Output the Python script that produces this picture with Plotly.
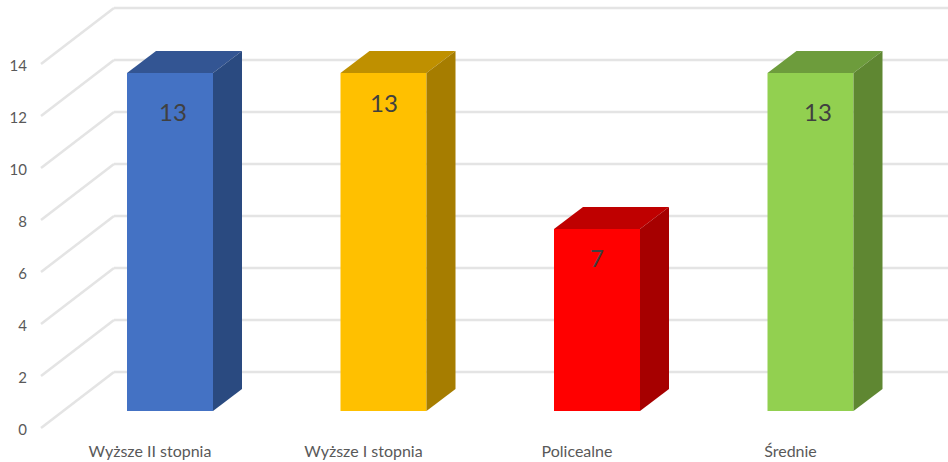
import plotly.graph_objects as go

categories = ["Wyższe II stopnia", "Wyższe I stopnia", "Policealne", "Średnie"]
values = [13, 13, 7, 13]
tick_values = [0, 2, 4, 6, 8, 10, 12, 14]
front_colors = ["#4472C4", "#FFC000", "#FF0000", "#92D050"]
top_colors = ["#335593", "#BF9000", "#BF0000", "#6D9C3C"]
side_colors = ["#2A4A80", "#A67D00", "#A60000", "#5F8732"]

# Layout constants (pixel scale -> data scale)
W, H = 948, 462
PX_X = 213.5          # pixels per category
PX_Y = 26.0           # pixels per value unit
X0_PX = 170.0         # pixel x of the first category
Y0_PX = 411.0         # pixel y of value 0 on bar front
ML, MB = 37, 22


def dx(px):
    return px / PX_X


def dy(px):
    return px / PX_Y


BAR_W = dx(86)
DEPTH_X, DEPTH_Y = dx(29), dy(22)
WALL_LEFT = dx(114 - X0_PX)
WALL_FRONT = dx(41 - X0_PX)
WALL_RIGHT = dx(W - X0_PX)
WALL_UP = dy(39)       # back wall rise over bar-front baseline
FRONT_DOWN = dy(17)    # tick plane drop under bar-front baseline
LABEL_DOWN = dy(19)    # tick label drop under bar-front baseline

fig = go.Figure()

idx = list(range(len(categories)))
fig.add_trace(go.Bar(
    x=idx, y=values, width=BAR_W, marker=dict(color=front_colors, line=dict(width=0)),
    hoverinfo="skip", showlegend=False,
))

for i, v in enumerate(values):
    l, r = i - BAR_W / 2, i + BAR_W / 2
    fig.add_trace(go.Scatter(
        x=[l, l + DEPTH_X, r + DEPTH_X, r, l], y=[v, v + DEPTH_Y, v + DEPTH_Y, v, v],
        mode="lines", fill="toself", fillcolor=top_colors[i], line=dict(width=0),
        hoverinfo="skip", showlegend=False,
    ))
    fig.add_trace(go.Scatter(
        x=[r, r + DEPTH_X, r + DEPTH_X, r, r], y=[v, v + DEPTH_Y, DEPTH_Y, 0, v],
        mode="lines", fill="toself", fillcolor=side_colors[i], line=dict(width=0),
        hoverinfo="skip", showlegend=False,
    ))

shapes = []
for t in tick_values:
    line = dict(color="#E4E4E4", width=2.5)
    shapes.append(dict(type="line", layer="below", xref="x", yref="y",
                       x0=WALL_FRONT, y0=t - FRONT_DOWN, x1=WALL_LEFT, y1=t + WALL_UP, line=line))
    shapes.append(dict(type="line", layer="below", xref="x", yref="y",
                       x0=WALL_LEFT, y0=t + WALL_UP, x1=WALL_RIGHT, y1=t + WALL_UP, line=line))

label_dx = [dx(3), dx(0), dx(0), dx(7)]
label_dy = [dy(-38), dy(-29), dy(-28.5), dy(-38)]
annotations = [
    dict(x=i + label_dx[i], y=v + label_dy[i], text=str(v), showarrow=False, xref="x", yref="y",
         font=dict(family="Lato", size=24, color="#404040"))
    for i, v in enumerate(values)
]

fig.update_layout(
    width=W, height=H, autosize=False,
    margin=dict(l=ML, r=0, t=0, b=MB, pad=0),
    paper_bgcolor="white", plot_bgcolor="rgba(0,0,0,0)",
    shapes=shapes, annotations=annotations, showlegend=False,
    font=dict(family="Lato", color="#595959"),
    xaxis=dict(
        range=[dx(ML - X0_PX), dx(W - X0_PX)],
        tickmode="array", tickvals=[i - dx(20) for i in idx], ticktext=categories,
        showgrid=False, zeroline=False, showline=False, ticks="", ticklen=0,
        tickfont=dict(family="Lato", size=16, color="#595959"),
        tickangle=0,
    ),
    yaxis=dict(
        range=[dy(Y0_PX - (H - MB)), dy(Y0_PX)],
        tickmode="array", tickvals=[t - LABEL_DOWN for t in tick_values],
        ticktext=[str(t) for t in tick_values],
        showgrid=False, zeroline=False, showline=False, ticks="", ticklen=0,
        ticklabelstandoff=9,
        tickfont=dict(family="Lato", size=15, color="#595959"),
    ),
)

fig.write_html(
    "out.html",
    config=dict(displayModeBar=False),
    post_script="document.body.style.margin='0';document.body.style.overflow='hidden';",
)
